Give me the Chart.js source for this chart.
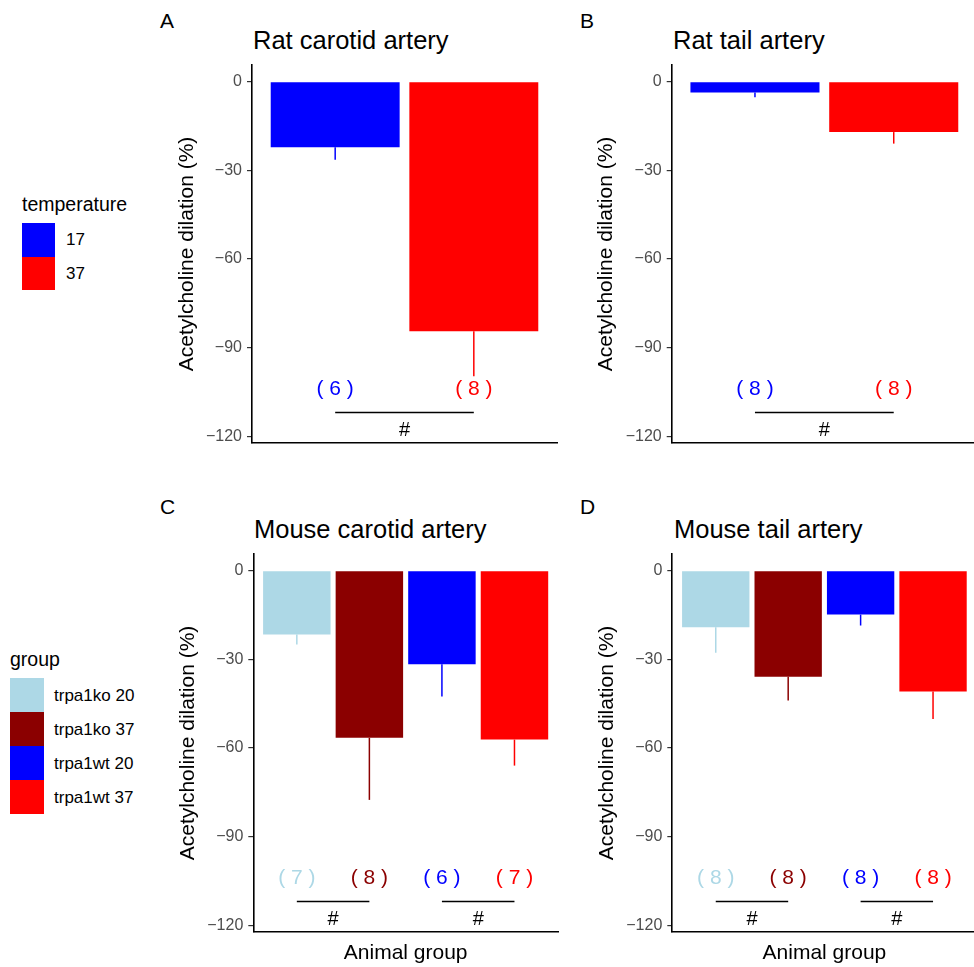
<!DOCTYPE html>
<html>
<head>
<meta charset="utf-8">
<title>Acetylcholine dilation</title>
<script src="https://cdn.jsdelivr.net/npm/chart.js@4.4.1/dist/chart.umd.min.js"></script>
<style>
  html, body { margin: 0; padding: 0; background: #fff; overflow: hidden; }
  body { width: 974px; height: 967px; position: relative; font-family: "Liberation Sans", Arial, sans-serif; color: #000; }
  .txt { position: absolute; line-height: 1; white-space: nowrap; }
  .key { position: absolute; }
  canvas { position: absolute; }
</style>
</head>
<body>

<div class="txt" style="left:160px;top:10px;font-size:21px">A</div>
<div class="txt" style="left:580px;top:10px;font-size:21px">B</div>
<div class="txt" style="left:160px;top:496px;font-size:21px">C</div>
<div class="txt" style="left:580px;top:496px;font-size:21px">D</div>

<div class="txt" style="left:253px;top:28px;font-size:25.5px">Rat carotid artery</div>
<div class="txt" style="left:673px;top:28px;font-size:25.5px">Rat tail artery</div>
<div class="txt" style="left:254px;top:517px;font-size:25.5px">Mouse carotid artery</div>
<div class="txt" style="left:674px;top:517px;font-size:25.5px">Mouse tail artery</div>

<div id="legend-temp"></div>
<div id="legend-group"></div>

<canvas id="ratCarotid" width="420" height="415" style="left:150px;top:55px"></canvas>
<canvas id="ratTail" width="420" height="415" style="left:570px;top:55px"></canvas>
<canvas id="mouseCarotid" width="420" height="423" style="left:150px;top:544px"></canvas>
<canvas id="mouseTail" width="420" height="423" style="left:570px;top:544px"></canvas>

<script>
// groups and colours
const ratGroups = ['17', '37'];
const ratColors = ['#0000FF', '#FF0000'];
const mouseGroups = ['trpa1ko 20', 'trpa1ko 37', 'trpa1wt 20', 'trpa1wt 37'];
const mouseColors = ['#ADD8E6', '#8B0000', '#0000FF', '#FF0000'];

// mean dilation (%), SEM and n per group
const ratCarotidMean = [-22.2, -84.5];
const ratCarotidSem = [4.3, 15.2];
const ratCarotidN = [6, 8];

const ratTailMean = [-3.7, -17.1];
const ratTailSem = [1.6, 3.9];
const ratTailN = [8, 8];

const mouseCarotidMean = [-21.6, -56.6, -31.7, -57.2];
const mouseCarotidSem = [3.4, 21.0, 10.9, 8.8];
const mouseCarotidN = [7, 8, 6, 7];

const mouseTailMean = [-19.2, -35.9, -14.9, -40.9];
const mouseTailSem = [8.6, 8.1, 3.7, 9.3];
const mouseTailN = [8, 8, 8, 8];

// y axis
const yTicks = [0, -30, -60, -90, -120];
const yMin = -122.3;
const yMax = 5.6;

// n labels, significance brackets and '#' marks (y values)
const nLabelY = -104;
const bracketY = -112;
const hashY = -118;
const ratPairs = [[1, 2]];
const mousePairs = [[1, 2], [3, 4]];

const FONT = '"Liberation Sans", Arial, sans-serif';

// legends
function buildLegend(el, title, labels, colors, g) {
  let html = `<div class="txt" style="left:${g.left}px;top:${g.titleTop}px;font-size:19.5px">${title}</div>`;
  labels.forEach((lab, i) => {
    const top = g.keyTop + i * g.keyH;
    html += `<div class="key" style="left:${g.left}px;top:${top}px;width:${g.keyW}px;height:${g.keyH}px;background:${colors[i]}"></div>`;
    html += `<div class="txt" style="left:${g.labelLeft}px;top:${top + g.keyH / 2 - 8.5}px;font-size:17px">${lab}</div>`;
  });
  el.innerHTML = html;
}

buildLegend(document.getElementById('legend-temp'), 'temperature', ratGroups, ratColors,
  { left: 22, titleTop: 195, keyTop: 223, keyW: 33, keyH: 33.5, labelLeft: 66 });
buildLegend(document.getElementById('legend-group'), 'group', mouseGroups, mouseColors,
  { left: 10, titleTop: 650, keyTop: 678, keyW: 34, keyH: 34, labelLeft: 54 });

// error bars, n labels and brackets
function annotations(p) {
  return {
    id: 'annotations',
    afterDatasetsDraw(chart) {
      const { ctx } = chart;
      const x = chart.scales.x, y = chart.scales.y;
      ctx.save();
      p.mean.forEach((m, i) => {
        const px = x.getPixelForValue(i + 1);
        ctx.strokeStyle = p.colors[i];
        ctx.lineWidth = 1.5;
        ctx.beginPath();
        ctx.moveTo(px, y.getPixelForValue(m));
        ctx.lineTo(px, y.getPixelForValue(m - p.sem[i]));
        ctx.stroke();

        ctx.fillStyle = p.colors[i];
        ctx.font = '21px ' + FONT;
        ctx.textAlign = 'center';
        ctx.textBaseline = 'middle';
        ctx.fillText('( ' + p.n[i] + ' )', px, y.getPixelForValue(nLabelY));
      });
      p.pairs.forEach(([a, b]) => {
        const x1 = x.getPixelForValue(a), x2 = x.getPixelForValue(b);
        const by = y.getPixelForValue(bracketY);
        ctx.strokeStyle = '#000';
        ctx.lineWidth = 1.5;
        ctx.beginPath();
        ctx.moveTo(x1, by);
        ctx.lineTo(x2, by);
        ctx.stroke();
        ctx.fillStyle = '#000';
        ctx.font = '20px ' + FONT;
        ctx.textAlign = 'center';
        ctx.textBaseline = 'middle';
        ctx.fillText('#', (x1 + x2) / 2, y.getPixelForValue(hashY));
      });
      ctx.restore();
    }
  };
}

function drawPanel(p) {
  const [cl, ct, cw, ch] = p.box;
  const a = p.area;
  const yTitleSize = 21, lh = yTitleSize * 1.2;
  const positions = p.mean.map((v, i) => i + 1);
  new Chart(document.getElementById(p.id), {
    type: 'bar',
    data: {
      datasets: [{
        data: p.mean.map((v, i) => ({ x: positions[i], y: v })),
        backgroundColor: p.colors,
        borderWidth: 0,
        categoryPercentage: 1,
        barPercentage: 0.93
      }]
    },
    options: {
      responsive: false,
      animation: false,
      events: [],
      layout: { padding: { top: a.t - ct, right: cl + cw - a.r, bottom: 0, left: 0 } },
      plugins: { legend: { display: false }, tooltip: { enabled: false } },
      scales: {
        x: {
          type: 'linear',
          offset: false,
          min: 0.4,
          max: p.mean.length + 0.6,
          afterBuildTicks(s) { s.ticks = positions.map(v => ({ value: v })); },
          ticks: { display: false },
          grid: { display: false, offset: false },
          border: { display: true, color: '#000', width: 1.6 },
          title: {
            display: p.xTitle,
            text: 'Animal group',
            color: '#000',
            font: { family: FONT, size: 21, lineHeight: 1.2 },
            padding: { top: 0, bottom: 1 }
          },
          afterFit(s) { s.height = ct + ch - a.b; }
        },
        y: {
          min: yMin,
          max: yMax,
          afterBuildTicks(s) { s.ticks = yTicks.map(v => ({ value: v })); },
          ticks: {
            color: '#4D4D4D',
            font: { family: FONT, size: 16 },
            padding: 5,
            callback: v => String(v).replace('-', '\u2212')
          },
          grid: { display: true, drawOnChartArea: false, drawTicks: true, tickLength: 5, color: '#333', lineWidth: 1.2 },
          border: { display: true, color: '#000', width: 1.6 },
          title: {
            display: true,
            text: 'Acetylcholine dilation (%)',
            color: '#000',
            font: { family: FONT, size: yTitleSize, lineHeight: 1.2 },
            padding: { top: a.l - 65 - cl - lh / 2, bottom: 0 }
          },
          afterFit(s) {
            s.width = a.l - cl;
            // the axis ends well past the outer tick labels, so no extra room is needed
            s.paddingTop = 0;
            s.paddingBottom = 0;
          }
        }
      }
    },
    plugins: [annotations(p)]
  });
}

drawPanel({ id: 'ratCarotid', box: [150, 55, 420, 415], area: { l: 252, t: 65, r: 557, b: 443 },
  mean: ratCarotidMean, sem: ratCarotidSem, n: ratCarotidN, colors: ratColors, pairs: ratPairs, xTitle: false });
drawPanel({ id: 'ratTail', box: [570, 55, 420, 415], area: { l: 671.7, t: 65, r: 977, b: 443 },
  mean: ratTailMean, sem: ratTailSem, n: ratTailN, colors: ratColors, pairs: ratPairs, xTitle: false });
drawPanel({ id: 'mouseCarotid', box: [150, 544, 420, 423], area: { l: 253.3, t: 554, r: 558, b: 932 },
  mean: mouseCarotidMean, sem: mouseCarotidSem, n: mouseCarotidN, colors: mouseColors, pairs: mousePairs, xTitle: true });
drawPanel({ id: 'mouseTail', box: [570, 544, 420, 423], area: { l: 672.3, t: 554, r: 976.5, b: 932 },
  mean: mouseTailMean, sem: mouseTailSem, n: mouseTailN, colors: mouseColors, pairs: mousePairs, xTitle: true });
</script>
</body>
</html>
